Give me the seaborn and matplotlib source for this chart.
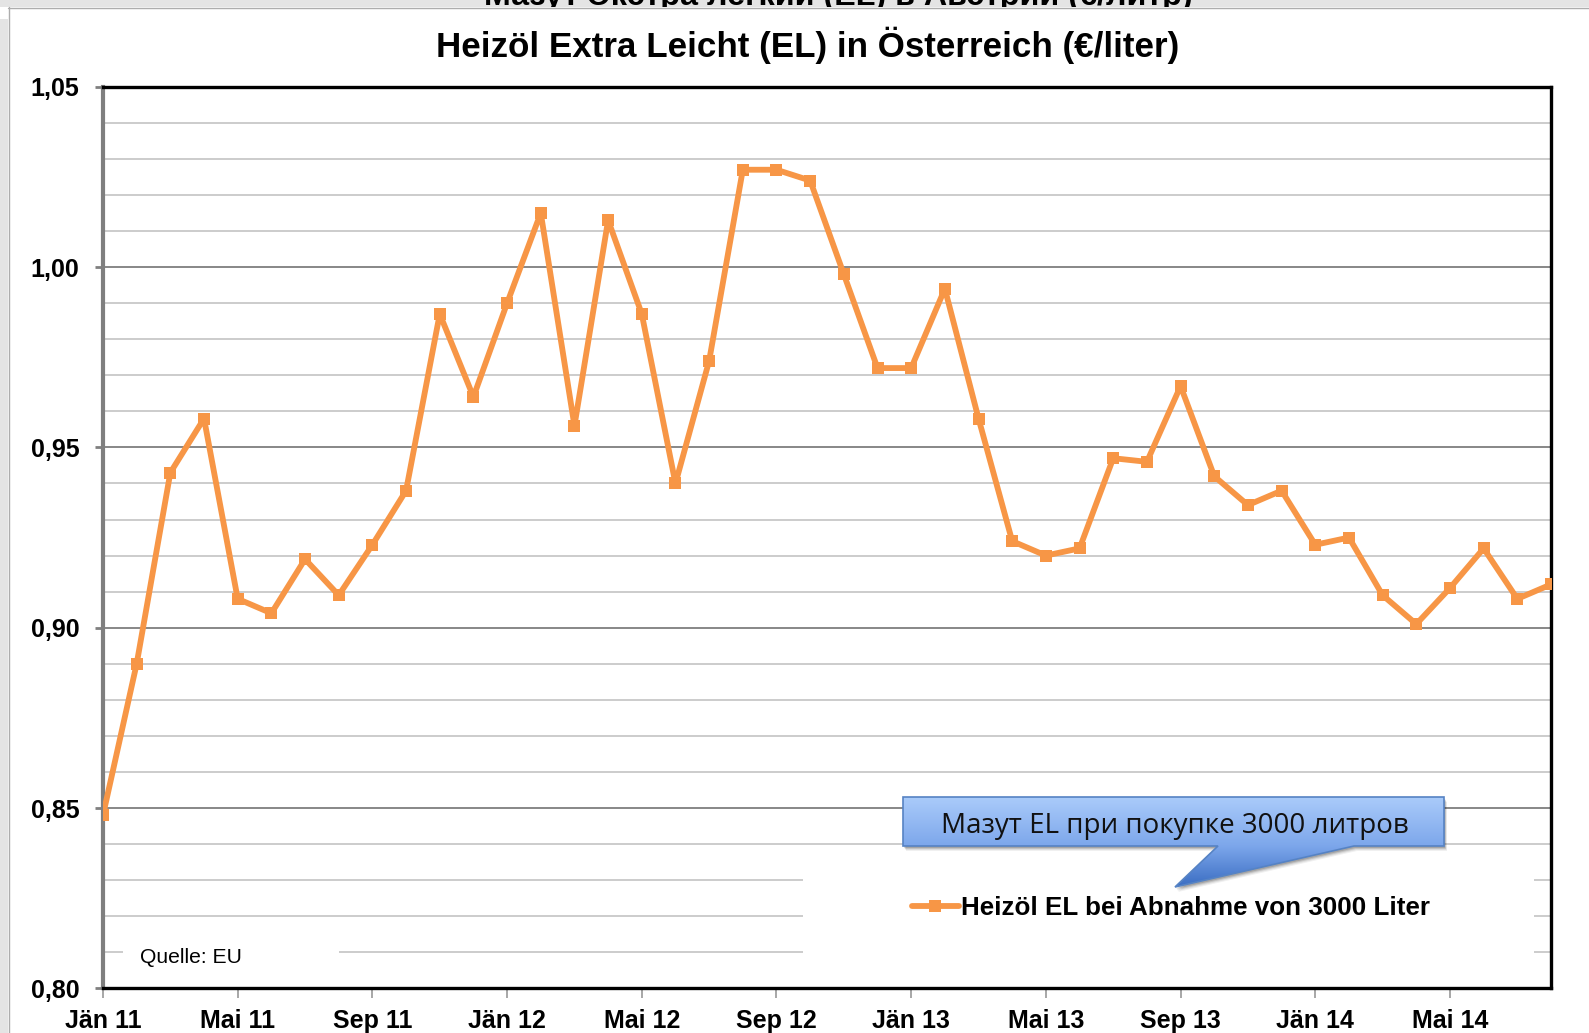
import numpy as np
import pandas as pd
import seaborn as sns
import matplotlib.pyplot as plt
from matplotlib.patches import Polygon, Rectangle
from matplotlib.colors import LinearSegmentedColormap

titel = "Heizöl Extra Leicht (EL) in Österreich (€/liter)"
titel_ru = "Мазут Экстра легкий (EL) в Австрии (€/литр)"
serie = "Heizöl EL bei Abnahme von 3000 Liter"
hinweis = "Мазут EL при покупке 3000 литров"
quelle = "Quelle: EU"

monat_labels = ["Jän 11", "Mai 11", "Sep 11", "Jän 12", "Mai 12", "Sep 12",
                "Jän 13", "Mai 13", "Sep 13", "Jän 14", "Mai 14"]
y_ticks = [0.80, 0.85, 0.90, 0.95, 1.00, 1.05]
y_labels = ["0,80", "0,85", "0,90", "0,95", "1,00", "1,05"]

# monthly prices, Jän 2011 .. Aug 2014 (EUR/liter)
preise = [0.848, 0.890, 0.943, 0.958, 0.908, 0.904, 0.919, 0.909, 0.923, 0.938,
          0.987, 0.964, 0.990, 1.015, 0.956, 1.013, 0.987, 0.940, 0.974, 1.027,
          1.027, 1.024, 0.998, 0.972, 0.972, 0.994, 0.958, 0.924, 0.920, 0.922,
          0.947, 0.946, 0.967, 0.942, 0.934, 0.938, 0.923, 0.925, 0.909, 0.901,
          0.911, 0.922, 0.908, 0.912]

orange = "#f79646"

sns.set_theme(style="white")
plt.rcParams["font.family"] = ["Liberation Sans", "DejaVu Sans"]
plt.rcParams["text.color"] = "black"
plt.rcParams["xtick.labelcolor"] = "black"
plt.rcParams["ytick.labelcolor"] = "black"

W, H = 1589, 1033
fig = plt.figure(figsize=(W / 100, H / 100), dpi=100)
fig.patch.set_facecolor("white")
ax = fig.add_axes([103 / W, 1 - 988.3 / H, 1448 / W, 901.5 / H])

df = pd.DataFrame({"monat": np.arange(len(preise)), "preis": preise})
sns.lineplot(data=df, x="monat", y="preis", ax=ax, color=orange, lw=4.2,
             marker="s", markersize=8.5, markeredgewidth=0, label=serie, zorder=5)

ax.set_xlim(0, len(preise) - 1)
ax.set_ylim(y_ticks[0], y_ticks[-1])
ax.set_xlabel("")
ax.set_ylabel("")

ax.set_xticks(range(0, len(preise), 4), labels=monat_labels,
              fontsize=18, fontweight="bold", color="black")
ax.set_yticks(y_ticks, labels=y_labels, fontsize=18, fontweight="bold",
              color="black")
ax.set_yticks(np.arange(0.80, 1.0501, 0.01), minor=True)

ax.set_axisbelow(True)
ax.yaxis.grid(True, which="minor", color="#c4c4c4", lw=1.2)
ax.yaxis.grid(True, which="major", color="#878787", lw=1.4)
ax.xaxis.grid(False)

ax.tick_params(axis="y", which="major", direction="out", length=6, width=2,
               color="#808080", pad=11, left=True)
ax.tick_params(axis="y", which="minor", length=0)
ax.tick_params(axis="x", which="major", direction="out", length=7, width=1.3,
               color="#a0a0a0", pad=8, bottom=True)

for side in ["top", "right", "bottom"]:
    ax.spines[side].set_color("black")
    ax.spines[side].set_linewidth(2.4)
ax.spines["left"].set_color("#7f7f7f")
ax.spines["left"].set_linewidth(3)

# white boxes behind legend and source note
ax.add_patch(Rectangle((0.4834, 0.0203), 0.5046, 0.122, transform=ax.transAxes,
                       facecolor="white", edgecolor="none", zorder=3))
ax.add_patch(Rectangle((0.0138, 0.0148), 0.149, 0.05, transform=ax.transAxes,
                       facecolor="white", edgecolor="none", zorder=3))
ax.text(0.0256, 0.0347, quelle, transform=ax.transAxes, fontsize=15.2,
        va="center", ha="left", color="black", zorder=4)

ax.legend(loc="center left", bbox_to_anchor=(912 / W, 1 - 908 / H),
          bbox_transform=fig.transFigure, frameon=False, borderpad=0,
          borderaxespad=0, handlelength=1.8, handletextpad=0.1,
          prop={"weight": "bold", "size": 18.7})

fig.text(808 / W, 1 - 56.8 / H, titel, ha="center", va="baseline",
         fontsize=25.2, fontweight="bold", color="black")

# overlay in pixel coords: page border, cut-off header, callout
ov = fig.add_axes([0, 0, 1, 1], zorder=10)
ov.set_xlim(0, W)
ov.set_ylim(H, 0)
ov.axis("off")

ov.add_patch(Rectangle((0, 0), W, 7, facecolor="#e4e4e4", edgecolor="none"))
ov.add_patch(Rectangle((0, 0), 8, H, facecolor="#e4e4e4", edgecolor="none"))
ov.text(838, 5, titel_ru, ha="center", va="baseline", fontsize=23.2,
        fontweight="bold", color="black", zorder=3, clip_on=False)
ov.add_patch(Rectangle((0, 7), W, 12, facecolor="white", edgecolor="none", zorder=4))
ov.plot([8, W], [7.5, 7.5], color="#adadad", lw=1, zorder=5)
ov.plot([8.5, 8.5], [7, H], color="#adadad", lw=1, zorder=5)

callout = [(903, 797), (1444, 797), (1444, 846), (1354, 846),
           (1175, 887), (1218, 846), (903, 846)]
for k, a in [(5, 0.06), (4, 0.08), (3, 0.12), (2, 0.15)]:
    ov.add_patch(Polygon([(x + k * 0.6, y + k) for x, y in callout],
                         closed=True, facecolor="black", edgecolor="none",
                         alpha=a, zorder=6))
shape = Polygon(callout, closed=True, facecolor="none", edgecolor="none", zorder=7)
ov.add_patch(shape)
cmap = LinearSegmentedColormap.from_list(
    "blau", [(0, "#aacbfa"), (0.54, "#7da7eb"), (1, "#3a6dc2")])
grad = np.linspace(0, 1, 256).reshape(-1, 1)
img = ov.imshow(grad, cmap=cmap, extent=[903, 1444, 887, 797], aspect="auto",
                zorder=7, interpolation="bilinear")
img.set_clip_path(shape)
ov.add_patch(Polygon(callout, closed=True, facecolor="none",
                     edgecolor="#5683c4", lw=1.2, zorder=8))
ov.set_xlim(0, W)
ov.set_ylim(H, 0)
ov.text(1175, 826, hinweis, ha="center", va="center", fontsize=20,
        family=["Open Sans", "DejaVu Sans"], color="#111111", zorder=9)

fig.savefig("out.png", dpi=100)
